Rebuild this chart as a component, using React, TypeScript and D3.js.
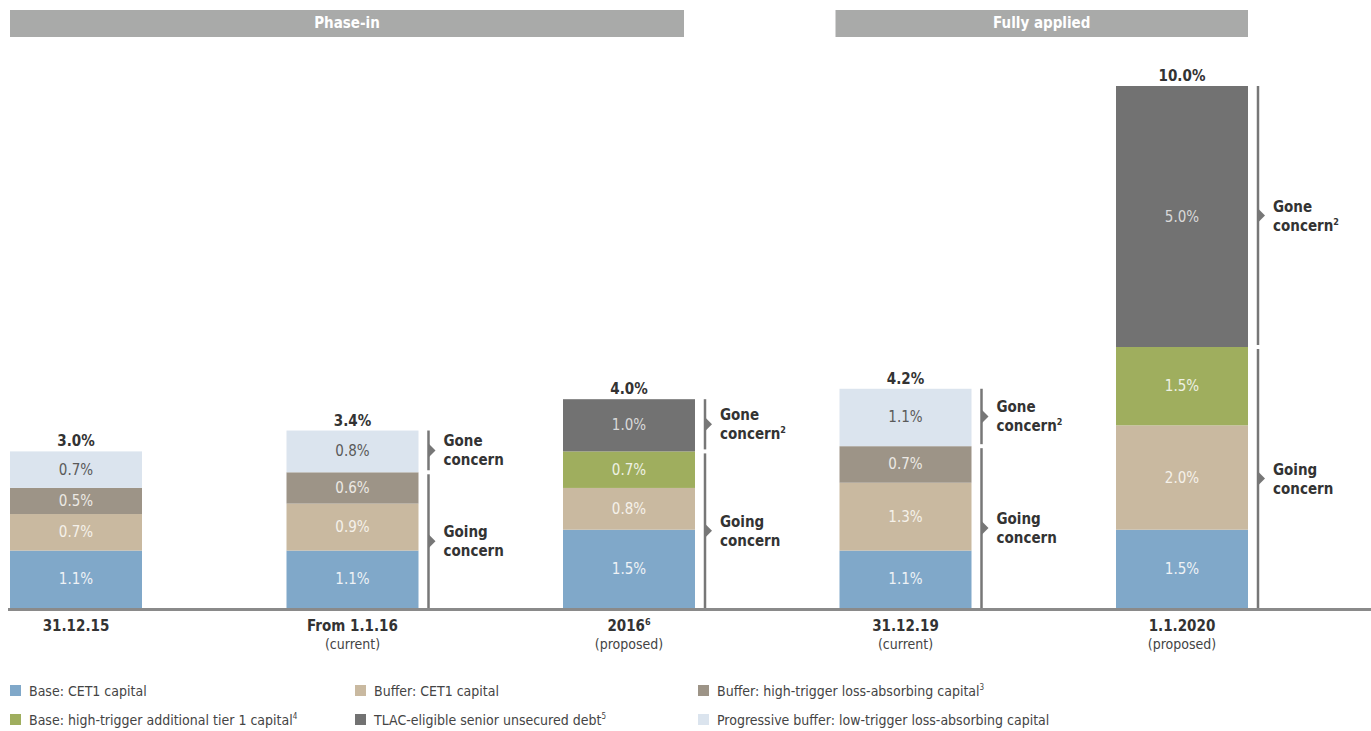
import * as d3 from 'd3';
import React from 'react';

const categories = ['31.12.15', 'From 1.1.16', '2016', '31.12.19', '1.1.2020'];
const categorySup = ['', '', '6', '', ''];
const subLabels = ['', '(current)', '(proposed)', '(current)', '(proposed)'];

const baseCet1 = [1.1, 1.1, 1.5, 1.1, 1.5];
const bufferCet1 = [0.7, 0.9, 0.8, 1.3, 2.0];
const baseAt1 = [0, 0, 0.7, 0, 1.5];
const bufferHighTrigger = [0.5, 0.6, 0, 0.7, 0];
const tlacDebt = [0, 0, 1.0, 0, 5.0];
const progressiveBuffer = [0.7, 0.8, 0, 1.1, 0];
const totals = [3.0, 3.4, 4.0, 4.2, 10.0];

const showBracket = [false, true, true, true, true];
const goneSup = ['', '', '2', '2', '2'];

const seriesKeys = ['baseCet1', 'bufferCet1', 'baseAt1', 'bufferHighTrigger', 'tlacDebt', 'progressiveBuffer'];
const seriesValues: Record<string, number[]> = {
  baseCet1,
  bufferCet1,
  baseAt1,
  bufferHighTrigger,
  tlacDebt,
  progressiveBuffer,
};
const seriesColors: Record<string, string> = {
  baseCet1: '#80a8c9',
  bufferCet1: '#c9b9a0',
  baseAt1: '#9fae5e',
  bufferHighTrigger: '#9d9487',
  tlacDebt: '#727272',
  progressiveBuffer: '#dbe4ee',
};
const labelColors: Record<string, string> = {
  baseCet1: '#eef2f6',
  bufferCet1: '#f5f1ea',
  baseAt1: '#eef1e4',
  bufferHighTrigger: '#ece9e4',
  tlacDebt: '#d9d9d9',
  progressiveBuffer: '#5a5a5a',
};

const legendRows = [
  [
    { key: 'baseCet1', text: 'Base: CET1 capital', sup: '' },
    { key: 'bufferCet1', text: 'Buffer: CET1 capital', sup: '' },
    { key: 'bufferHighTrigger', text: 'Buffer: high-trigger loss-absorbing capital', sup: '3' },
  ],
  [
    { key: 'baseAt1', text: 'Base: high-trigger additional tier 1 capital', sup: '4' },
    { key: 'tlacDebt', text: 'TLAC-eligible senior unsecured debt', sup: '5' },
    { key: 'progressiveBuffer', text: 'Progressive buffer: low-trigger loss-absorbing capital', sup: '' },
  ],
];

const W = 1371;
const H = 731;
const FONT = '"Liberation Sans Narrow", "DejaVu Sans Condensed", "Open Sans", sans-serif';

export default function App() {
  const rows = categories.map((c, i) => {
    const r: Record<string, number | string> = { cat: c };
    seriesKeys.forEach((k) => (r[k] = seriesValues[k][i]));
    return r;
  });
  const stacked = d3.stack<Record<string, number | string>>().keys(seriesKeys)(rows as any);

  const x = d3.scaleBand<string>().domain(categories).range([10, 1248]).paddingInner(0.5226).paddingOuter(0);
  const bw = x.bandwidth();
  const xl = (c: string) => x(c) as number;
  const y = d3.scaleLinear().domain([0, 10]).range([608, 86]);

  const phaseEnd = xl(categories[2]) + bw - 11;
  const fullStart = xl(categories[3]) - 4;
  const fullEnd = xl(categories[4]) + bw;

  return (
    <svg width={W} height={H} style={{ position: 'absolute', left: 0, top: 0 }} fontFamily={FONT}>
      <rect width={W} height={H} fill="#fff" />
      {/* headers */}
      <rect x={10} y={10} width={phaseEnd - 10} height={27} fill="#a9aaa9" />
      <text x={(10 + phaseEnd) / 2} y={28} textAnchor="middle" fill="#fff" fontWeight="bold" fontSize={15}>
        Phase-in
      </text>
      <rect x={fullStart} y={10} width={fullEnd - fullStart} height={27} fill="#a9aaa9" />
      <text x={(fullStart + fullEnd) / 2} y={28} textAnchor="middle" fill="#fff" fontWeight="bold" fontSize={15}>
        Fully applied
      </text>

      {/* bars */}
      {stacked.map((s) => (
        <g key={s.key}>
          {s.map((d, i) =>
            d[1] - d[0] > 0 ? (
              <g key={i}>
                <rect
                  x={xl(categories[i])}
                  y={y(d[1])}
                  width={bw}
                  height={y(d[0]) - y(d[1])}
                  fill={seriesColors[s.key]}
                />
                <text
                  x={xl(categories[i]) + bw / 2}
                  y={(y(d[0]) + y(d[1])) / 2 + 5}
                  textAnchor="middle"
                  fontSize={15}
                  fill={labelColors[s.key]}
                >
                  {(d[1] - d[0]).toFixed(1)}%
                </text>
              </g>
            ) : null
          )}
        </g>
      ))}

      {/* totals */}
      {categories.map((c, i) => (
        <text key={c} x={xl(c) + bw / 2} y={y(totals[i]) - 5} textAnchor="middle" fontSize={15} fontWeight="bold" fill="#333">
          {totals[i].toFixed(1)}%
        </text>
      ))}

      {/* brackets */}
      {categories.map((c, i) => {
        if (!showBracket[i]) return null;
        const bx = xl(c) + bw + 10;
        const gone = tlacDebt[i] + progressiveBuffer[i];
        const yTop = y(totals[i]);
        const ySplit = y(totals[i] - gone);
        const yBot = y(0);
        const parts = [
          { y0: yTop, y1: ySplit - 2, lines: ['Gone', 'concern'], sup: goneSup[i] },
          { y0: ySplit + 2, y1: yBot, lines: ['Going', 'concern'], sup: '' },
        ];
        return (
          <g key={c}>
            {parts.map((p, j) => {
              const mid = (p.y0 + p.y1) / 2;
              return (
                <g key={j}>
                  <line x1={bx} x2={bx} y1={p.y0} y2={p.y1} stroke="#777" strokeWidth={2.5} />
                  <path d={`M${bx},${mid - 7}L${bx + 7},${mid}L${bx},${mid + 7}Z`} fill="#777" />
                  <text x={bx + 15} y={mid - 4} fontSize={15} fontWeight="bold" fill="#333">
                    {p.lines[0]}
                  </text>
                  <text x={bx + 15} y={mid + 15} fontSize={15} fontWeight="bold" fill="#333">
                    {p.lines[1]}
                    {p.sup ? (
                      <tspan fontSize={9} dy={-6}>
                        {p.sup}
                      </tspan>
                    ) : null}
                  </text>
                </g>
              );
            })}
          </g>
        );
      })}

      {/* axis */}
      <line x1={8} x2={W} y1={y(0) + 1.5} y2={y(0) + 1.5} stroke="#8a8a8a" strokeWidth={3} />

      {/* category labels */}
      {categories.map((c, i) => (
        <g key={c}>
          <text x={xl(c) + bw / 2} y={631} textAnchor="middle" fontSize={15} fontWeight="bold" fill="#333">
            {c}
            {categorySup[i] ? (
              <tspan fontSize={9} dy={-6}>
                {categorySup[i]}
              </tspan>
            ) : null}
          </text>
          {subLabels[i] ? (
            <text x={xl(c) + bw / 2} y={649} textAnchor="middle" fontSize={14} fill="#444">
              {subLabels[i]}
            </text>
          ) : null}
        </g>
      ))}

      {/* legend */}
      {legendRows.map((row, r) =>
        row.map((item, k) => {
          const lx = [10, 355, 698][k];
          const ly = 691 + r * 29;
          return (
            <g key={item.key}>
              <rect x={lx} y={ly - 6} width={11} height={11} fill={seriesColors[item.key]} />
              <text x={lx + 19} y={ly + 5} fontSize={14} fill="#444">
                {item.text}
                {item.sup ? (
                  <tspan fontSize={8} dy={-6}>
                    {item.sup}
                  </tspan>
                ) : null}
              </text>
            </g>
          );
        })
      )}
    </svg>
  );
}
